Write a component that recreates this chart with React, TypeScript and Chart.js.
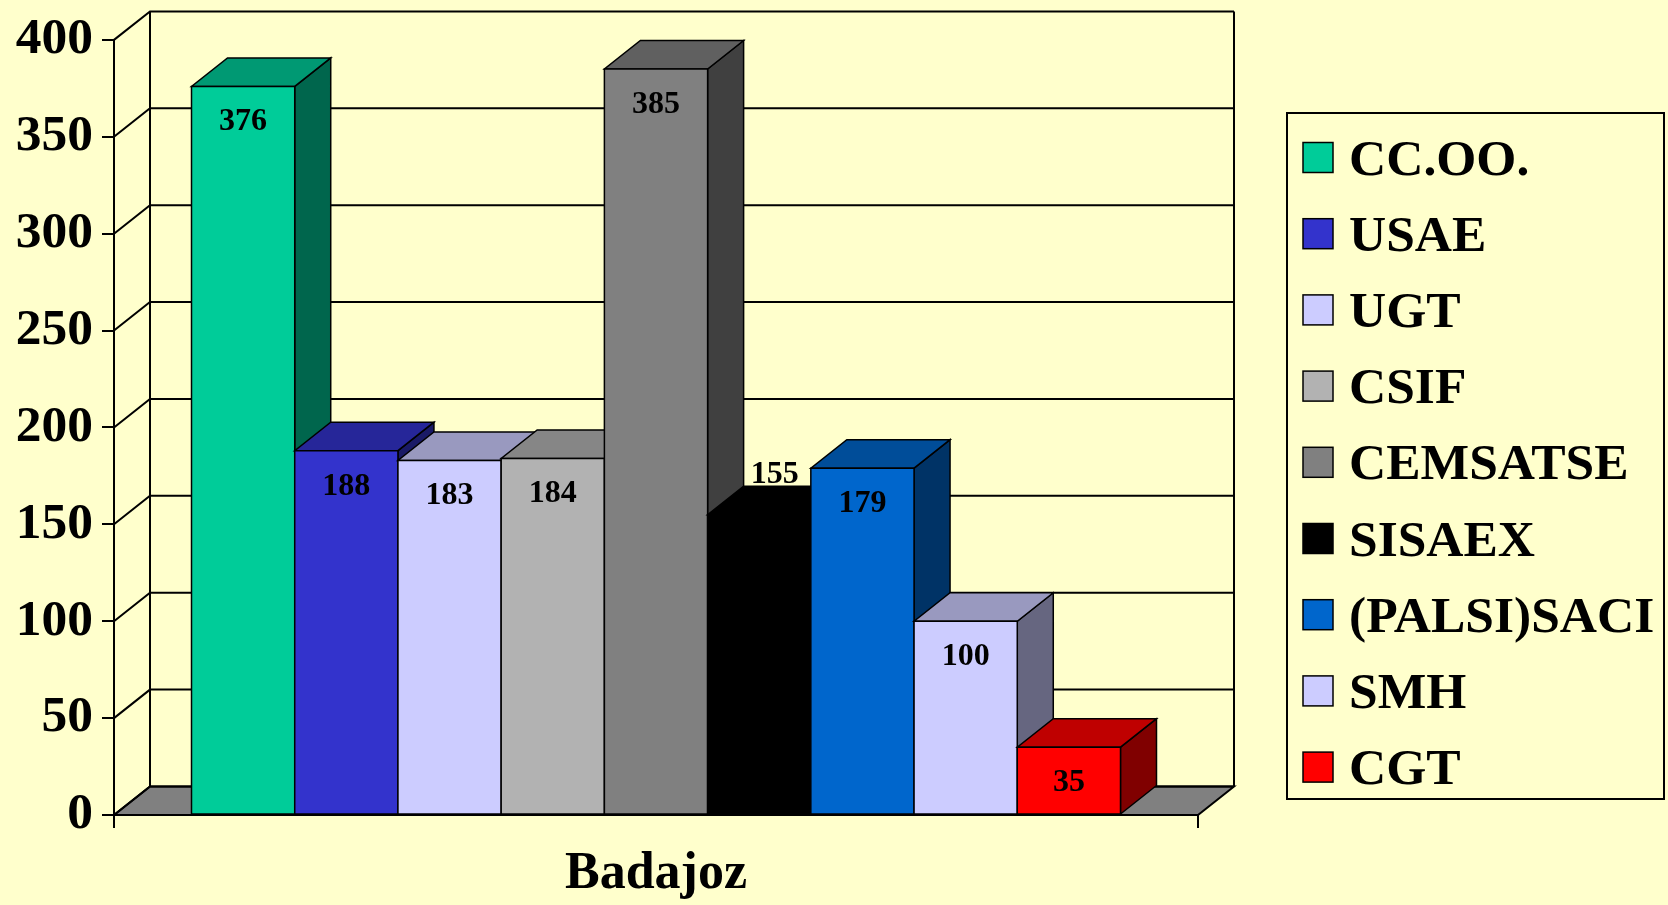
import React, { useEffect, useRef } from 'react';
import { Chart, registerables } from 'chart.js';

Chart.register(...registerables);

// ---- data ----
const categories = ['Badajoz'];
const seriesNames = ['CC.OO.', 'USAE', 'UGT', 'CSIF', 'CEMSATSE', 'SISAEX', '(PALSI)SACI', 'SMH', 'CGT'];
const seriesValues = [376, 188, 183, 184, 385, 155, 179, 100, 35];
const seriesColors = ['#00CC99', '#3333CC', '#CCCCFF', '#B2B2B2', '#808080', '#000000', '#0066CC', '#CCCCFF', '#FF0000'];
const yMin = 0;
const yMax = 400;
const yStep = 50;

// ---- style ----
const BG = '#FFFFCC';
const FLOOR = '#808080';
const FONT = '"Liberation Serif", "Times New Roman", serif';
const DX = 36;
const DY = 28.5;
const W = 1668;
const H = 905;

function shade(hex: string, f: number): string {
  const n = parseInt(hex.slice(1), 16);
  const r = Math.round(((n >> 16) & 255) * f);
  const g = Math.round(((n >> 8) & 255) * f);
  const b = Math.round((n & 255) * f);
  return `rgb(${r},${g},${b})`;
}

const threeDPlugin = {
  id: 'threeD',
  beforeDraw(chart: any) {
    const { ctx } = chart;
    ctx.save();
    ctx.fillStyle = BG;
    ctx.fillRect(0, 0, chart.width, chart.height);
    ctx.restore();
  },
  beforeDatasetsDraw(chart: any) {
    const { ctx, chartArea } = chart;
    const y = chart.scales.y;
    const { left, right, top, bottom } = chartArea;
    ctx.save();
    ctx.lineWidth = 2;
    ctx.strokeStyle = '#000';
    // floor
    ctx.beginPath();
    ctx.moveTo(left, bottom);
    ctx.lineTo(right, bottom);
    ctx.lineTo(right + DX, bottom - DY);
    ctx.lineTo(left + DX, bottom - DY);
    ctx.closePath();
    ctx.fillStyle = FLOOR;
    ctx.fill();
    ctx.stroke();
    // side wall diagonals + back wall gridlines
    y.ticks.forEach((t: any) => {
      const py = y.getPixelForValue(t.value);
      ctx.beginPath();
      ctx.moveTo(left, py);
      ctx.lineTo(left + DX, py - DY);
      ctx.lineTo(right + DX, py - DY);
      ctx.stroke();
    });
    // back wall verticals
    ctx.beginPath();
    ctx.moveTo(left + DX, top - DY);
    ctx.lineTo(left + DX, bottom - DY);
    ctx.moveTo(right + DX, top - DY);
    ctx.lineTo(right + DX, bottom - DY);
    ctx.stroke();
    ctx.restore();
  },
  afterDatasetsDraw(chart: any) {
    const { ctx } = chart;
    ctx.save();
    ctx.lineWidth = 1.5;
    ctx.strokeStyle = '#000';
    ctx.lineJoin = 'miter';
    const bars: any[] = [];
    chart.data.datasets.forEach((ds: any, i: number) => {
      const meta = chart.getDatasetMeta(i);
      const el = meta.data[0];
      if (!el) return;
      const p = el.getProps(['x', 'y', 'width', 'base'], true);
      bars.push({ ...p, color: ds.backgroundColor, value: ds.data[0] });
    });
    bars.sort((a, b) => a.x - b.x);
    bars.forEach((b) => {
      const L = b.x - b.width / 2;
      const R = b.x + b.width / 2;
      const T = b.y;
      const B = b.base;
      // side face
      ctx.beginPath();
      ctx.moveTo(R, T);
      ctx.lineTo(R + DX, T - DY);
      ctx.lineTo(R + DX, B - DY);
      ctx.lineTo(R, B);
      ctx.closePath();
      ctx.fillStyle = shade(b.color, 0.5);
      ctx.fill();
      ctx.stroke();
      // top face
      ctx.beginPath();
      ctx.moveTo(L, T);
      ctx.lineTo(R, T);
      ctx.lineTo(R + DX, T - DY);
      ctx.lineTo(L + DX, T - DY);
      ctx.closePath();
      ctx.fillStyle = shade(b.color, 0.75);
      ctx.fill();
      ctx.stroke();
      // front face
      ctx.beginPath();
      ctx.rect(L, T, R - L, B - T);
      ctx.fillStyle = b.color;
      ctx.fill();
      ctx.stroke();
    });
    // value labels
    ctx.fillStyle = '#000';
    ctx.font = `bold 32px ${FONT}`;
    ctx.textAlign = 'center';
    ctx.textBaseline = 'alphabetic';
    bars.forEach((b) => {
      const dark = b.color.toLowerCase() === '#000000';
      if (dark) {
        ctx.fillText(String(b.value), b.x + DX * 0.43, b.y - 32);
      } else {
        ctx.fillText(String(b.value), b.x, b.y + 44);
      }
    });
    ctx.restore();
  },
};

const legendPlugin = {
  id: 'boxLegend',
  afterDraw(chart: any) {
    const { ctx } = chart;
    const boxL = 1287;
    const boxT = 113;
    const boxR = 1664;
    const boxB = 799;
    const firstCenter = boxT + 44.5;
    const step = 76.2;
    ctx.save();
    ctx.lineWidth = 2;
    ctx.strokeStyle = '#000';
    ctx.strokeRect(boxL, boxT, boxR - boxL, boxB - boxT);
    ctx.font = `bold 51.5px ${FONT}`;
    ctx.textAlign = 'left';
    ctx.textBaseline = 'alphabetic';
    chart.data.datasets.forEach((ds: any, i: number) => {
      const cy = firstCenter + step * i;
      ctx.fillStyle = ds.backgroundColor;
      ctx.fillRect(1303, cy - 15, 30, 30);
      ctx.lineWidth = 1.5;
      ctx.strokeRect(1303, cy - 15, 30, 30);
      ctx.fillStyle = '#000';
      ctx.fillText(ds.label, 1349, cy + 17);
    });
    ctx.restore();
  },
};

export default function App() {
  const ref = useRef<HTMLCanvasElement>(null);
  useEffect(() => {
    if (!ref.current) return;
    const axisFont = { family: FONT, size: 51.5, weight: 'bold' as const };
    const xFont = { family: FONT, size: 52, weight: 'bold' as const };
    const chart = new Chart(ref.current, {
      type: 'bar',
      data: {
        labels: categories,
        datasets: seriesNames.map((name, i) => ({
          label: name,
          data: [seriesValues[i]],
          backgroundColor: seriesColors[i],
          borderColor: '#000',
          borderWidth: 1.5,
        })),
      },
      options: {
        responsive: false,
        animation: false,
        devicePixelRatio: 1,
        layout: { padding: { top: 39, right: W - 1198, bottom: 0, left: 0 } },
        datasets: { bar: { categoryPercentage: 0.857, barPercentage: 1 } },
        plugins: { legend: { display: false }, tooltip: { enabled: false } },
        scales: {
          x: {
            grid: { display: true, drawOnChartArea: false, drawTicks: true, tickLength: 13, color: '#000', lineWidth: 2, offset: true },
            border: { display: true, color: '#000', width: 2 },
            ticks: { color: '#000', font: xFont, padding: 15 },
            afterFit: (s: any) => { s.height = 90; },
          },
          y: {
            min: yMin,
            max: yMax,
            ticks: { stepSize: yStep, color: '#000', font: axisFont, padding: 9 },
            grid: { drawOnChartArea: false, drawTicks: true, tickLength: 12, color: '#000', lineWidth: 2 },
            border: { display: true, color: '#000', width: 2 },
            afterFit: (s: any) => { s.width = 114; },
          },
        },
      },
      plugins: [threeDPlugin, legendPlugin],
    } as any);
    return () => chart.destroy();
  }, []);
  return (
    <div style={{ position: 'fixed', left: 0, top: 0, width: W, height: H, background: BG }}>
      <canvas ref={ref} width={W} height={H} style={{ display: 'block', width: W, height: H }} />
    </div>
  );
}
